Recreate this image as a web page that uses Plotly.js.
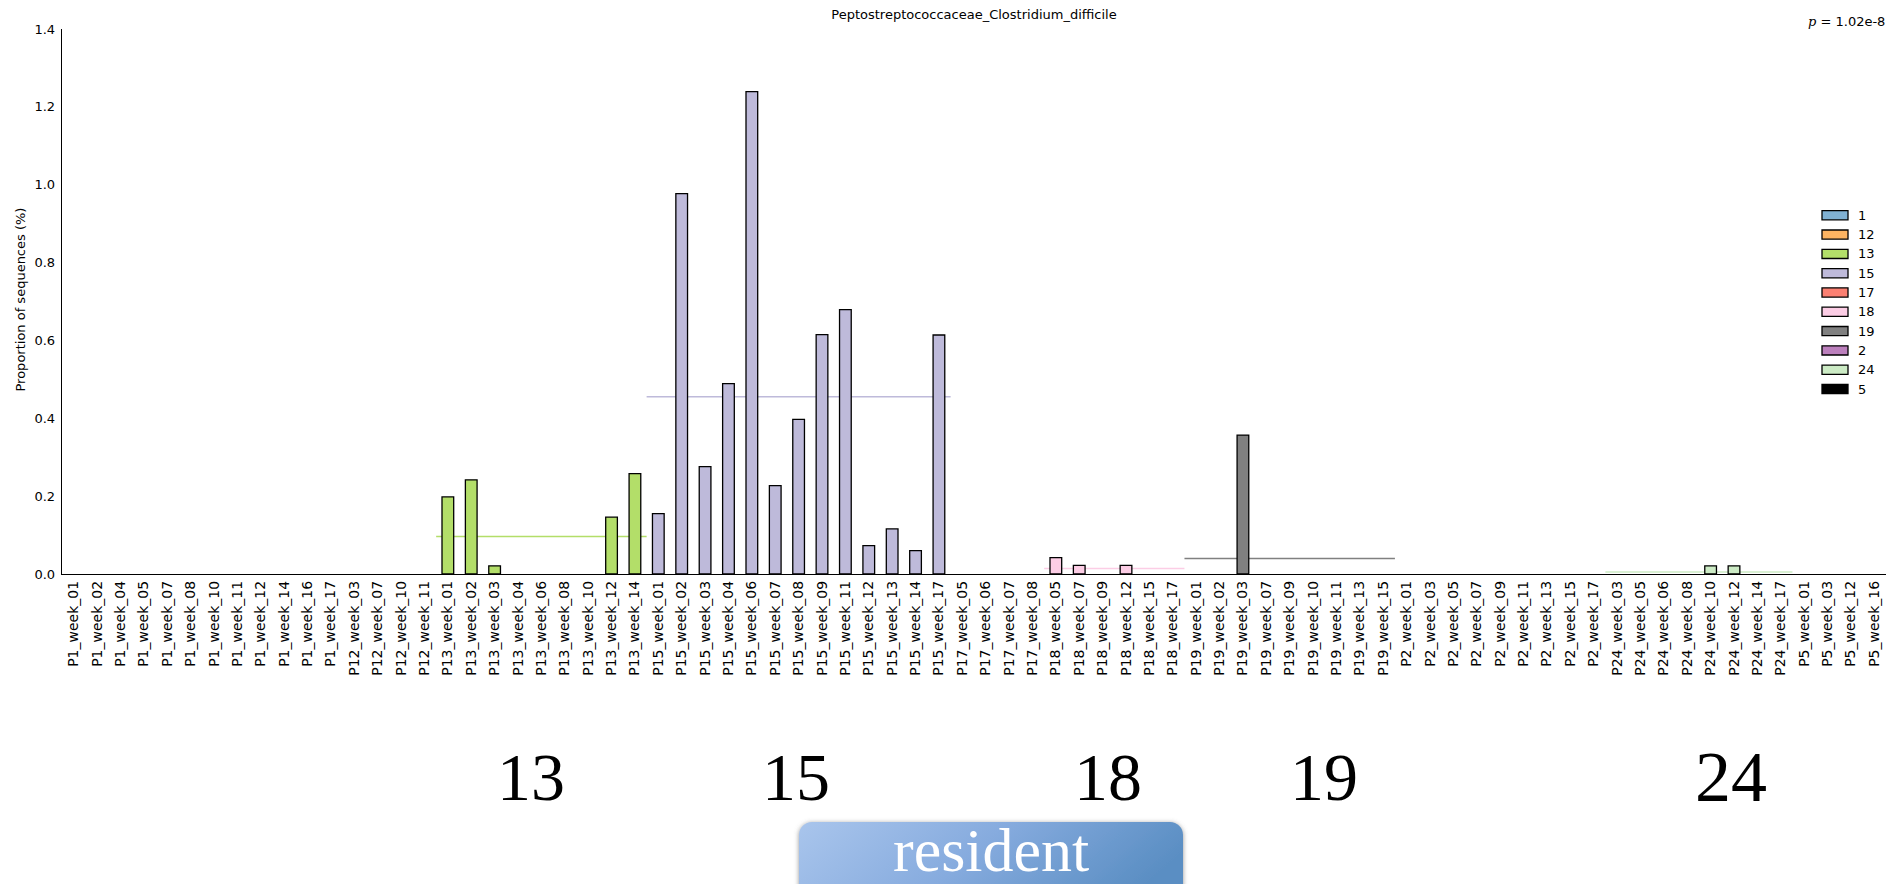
<!DOCTYPE html>
<html>
<head>
<meta charset="utf-8">
<script src="https://cdn.plot.ly/plotly-3.0.1.min.js"></script>
<style>html,body{margin:0;padding:0;background:#fff;}#chart{width:1893px;height:884px;}</style>
</head>
<body>
<div id="chart"></div>
<script>
// ---------- DATA ----------
const samples = [
  "P1_week_01","P1_week_02","P1_week_04","P1_week_05","P1_week_07","P1_week_08","P1_week_10","P1_week_11","P1_week_12","P1_week_14","P1_week_16","P1_week_17",
  "P12_week_03","P12_week_07","P12_week_10","P12_week_11",
  "P13_week_01","P13_week_02","P13_week_03","P13_week_04","P13_week_06","P13_week_08","P13_week_10","P13_week_12","P13_week_14",
  "P15_week_01","P15_week_02","P15_week_03","P15_week_04","P15_week_06","P15_week_07","P15_week_08","P15_week_09","P15_week_11","P15_week_12","P15_week_13","P15_week_14","P15_week_17",
  "P17_week_05","P17_week_06","P17_week_07","P17_week_08",
  "P18_week_05","P18_week_07","P18_week_09","P18_week_12","P18_week_15","P18_week_17",
  "P19_week_01","P19_week_02","P19_week_03","P19_week_07","P19_week_09","P19_week_10","P19_week_11","P19_week_13","P19_week_15",
  "P2_week_01","P2_week_03","P2_week_05","P2_week_07","P2_week_09","P2_week_11","P2_week_13","P2_week_15","P2_week_17",
  "P24_week_03","P24_week_05","P24_week_06","P24_week_08","P24_week_10","P24_week_12","P24_week_14","P24_week_17",
  "P5_week_01","P5_week_03","P5_week_12","P5_week_16"
];
const proportions = [
  0,0,0,0,0,0,0,0,0,0,0,0,
  0,0,0,0,
  0.198,0.242,0.021,0,0,0,0,0.146,0.258,
  0.155,0.977,0.276,0.489,1.239,0.227,0.397,0.615,0.679,0.073,0.116,0.060,0.614,
  0,0,0,0,
  0.042,0.022,0,0.022,0,0,
  0,0,0.357,0,0,0,0,0,0,
  0,0,0,0,0,0,0,0,0,
  0,0,0,0,0.021,0.021,0,0,
  0,0,0,0
];
const legendGroups = ["1","12","13","15","17","18","19","2","24","5"];
const groupColors  = ["#80b1d3","#fdb462","#b3de69","#bebada","#fb8072","#fccde5","#808080","#bc80bd","#ccebc5","#000000"];
const chartTitle = "Peptostreptococcaceae_Clostridium_difficile";
const yTitle = "Proportion of sequences (%)";
const pText = "1.02e-8";
const bottomLabels = ["13","15","18","19","24"];
const residentText = "resident";

// ---------- DERIVED ----------
const groupOf = samples.map(s => s.split("_")[0].slice(1));
const colorOf = g => groupColors[legendGroups.indexOf(g)];
const idx = samples.map((_, i) => i);

// ---------- LAYOUT GEOMETRY (pixels) ----------
const W = 1893, H = 884;
const L = 62, R = 7, T = 29, B = 310;
const PW = W - L - R, PH = H - T - B;
const px2x = p => (p - L) / PW;
const px2y = p => (H - B - p) / PH;

const shapes = [];
const annotations = [];

// group mean lines (below bars); zero means lie hidden under the axis line
legendGroups.forEach(g => {
  const ids = idx.filter(i => groupOf[i] === g);
  if (!ids.length) return;
  const mean = ids.reduce((a, i) => a + proportions[i], 0) / ids.length;
  if (mean <= 0) return;
  shapes.push({type:"line", xref:"x", yref:"y", layer:"below",
    x0: Math.min(...ids) - 0.5, x1: Math.max(...ids) + 0.5, y0: mean, y1: mean,
    line:{color: colorOf(g), width:1.5}});
});

// manual legend
legendGroups.forEach((g, k) => {
  const cy = 215.3 + 19.3 * k;
  shapes.push({type:"rect", xref:"paper", yref:"paper", layer:"above",
    x0: px2x(1822), x1: px2x(1848), y0: px2y(cy - 4.6), y1: px2y(cy + 4.6),
    fillcolor: groupColors[k], line:{color:"#000", width:1.3}});
  annotations.push({xref:"paper", yref:"paper", x: px2x(1856), y: px2y(cy),
    xanchor:"left", yanchor:"middle", showarrow:false, text:g,
    font:{family:"DejaVu Sans", size:13, color:"#000"}});
});

// y-axis title
annotations.push({xref:"paper", yref:"paper", x: px2x(19.5), y: px2y(300), textangle:-90,
  xanchor:"center", yanchor:"middle", showarrow:false, text:yTitle,
  font:{family:"DejaVu Sans", size:13, color:"#000"}});

// p-value
annotations.push({xref:"paper", yref:"paper", x: px2x(1887), y: px2y(22), xanchor:"right", yanchor:"middle",
  showarrow:false, text:'<span style="font-family:DejaVu Serif"><i>p</i></span> = ' + pText,
  font:{family:"DejaVu Sans", size:13, color:"#000"}});

// bottom group labels
const bottomX = [531, 796, 1108, 1324, 1731];
bottomLabels.forEach((t, k) => {
  annotations.push({xref:"paper", yref:"paper", x: px2x(bottomX[k]), y: px2y(777),
    xanchor:"center", yanchor:"middle", showarrow:false, text:t,
    font:{family:"Liberation Serif", size: t === "24" ? 72 : 68, color:"#000"}});
});

// resident box label
annotations.push({xref:"paper", yref:"paper", x: px2x(991), y: px2y(850),
  xanchor:"center", yanchor:"middle", showarrow:false, text:residentText,
  font:{family:"Liberation Serif", size:62, color:"#ffffff"}});

const boxSvg = "<svg xmlns='http://www.w3.org/2000/svg' width='400' height='90' viewBox='0 0 400 90'>" +
  "<defs><linearGradient id='g' x1='0' y1='0' x2='1' y2='0.3'>" +
  "<stop offset='0' stop-color='#a9c5ec'/><stop offset='0.5' stop-color='#86abde'/><stop offset='1' stop-color='#5a8ec3'/></linearGradient>" +
  "<filter id='f' x='-5%' y='-10%' width='110%' height='130%'><feDropShadow dx='0' dy='1' stdDeviation='2.5' flood-color='#666' flood-opacity='0.7'/></filter></defs>" +
  "<rect x='8' y='5' width='384' height='100' rx='13' ry='13' fill='url(#g)' filter='url(#f)'/></svg>";

const images = [{
  source: "data:image/svg+xml;charset=utf-8," + encodeURIComponent(boxSvg),
  xref:"paper", yref:"paper", x: px2x(791), y: px2y(817), sizex: 400 / PW, sizey: 90 / PH,
  sizing:"stretch", xanchor:"left", yanchor:"top", layer:"below"
}];

const traces = [{
  type:"bar", x: idx, y: proportions, width: 0.5,
  marker:{color: groupOf.map(colorOf),
    line:{color:"#000", width: proportions.map(v => v > 0 ? 1.3 : 0)}},
  hoverinfo:"x+y", showlegend:false
}];

const layout = {
  width: W, height: H, autosize:false,
  margin:{l:L, r:R, t:T, b:B, pad:0},
  paper_bgcolor:"#fff", plot_bgcolor:"#fff",
  font:{family:"DejaVu Sans", color:"#000"},
  title:{text: chartTitle, font:{family:"DejaVu Sans", size:13, color:"#000"},
    xref:"paper", x:0.5, xanchor:"center", yref:"container", y: 1 - 14/H, yanchor:"middle"},
  showlegend:false,
  bargap:0,
  xaxis:{type:"linear", range:[-0.5, samples.length - 0.5], tickmode:"array", tickvals: idx, ticktext: samples,
    tickangle:-90, ticks:"", showgrid:false, zeroline:false, showline:true, linecolor:"#000", linewidth:1.3,
    tickfont:{family:"DejaVu Sans", size:14, color:"#000"}, automargin:false, fixedrange:true},
  yaxis:{range:[0, 1.4], tickmode:"linear", tick0:0, dtick:0.2, tickformat:".1f", ticks:"", ticklabelstandoff:3,
    showgrid:false, zeroline:false, showline:true, linecolor:"#000", linewidth:1.3,
    tickfont:{family:"DejaVu Sans", size:13, color:"#000"}, automargin:false, fixedrange:true},
  shapes, annotations, images
};

Plotly.newPlot("chart", traces, layout, {displayModeBar:false, staticPlot:true});
</script>
</body>
</html>
